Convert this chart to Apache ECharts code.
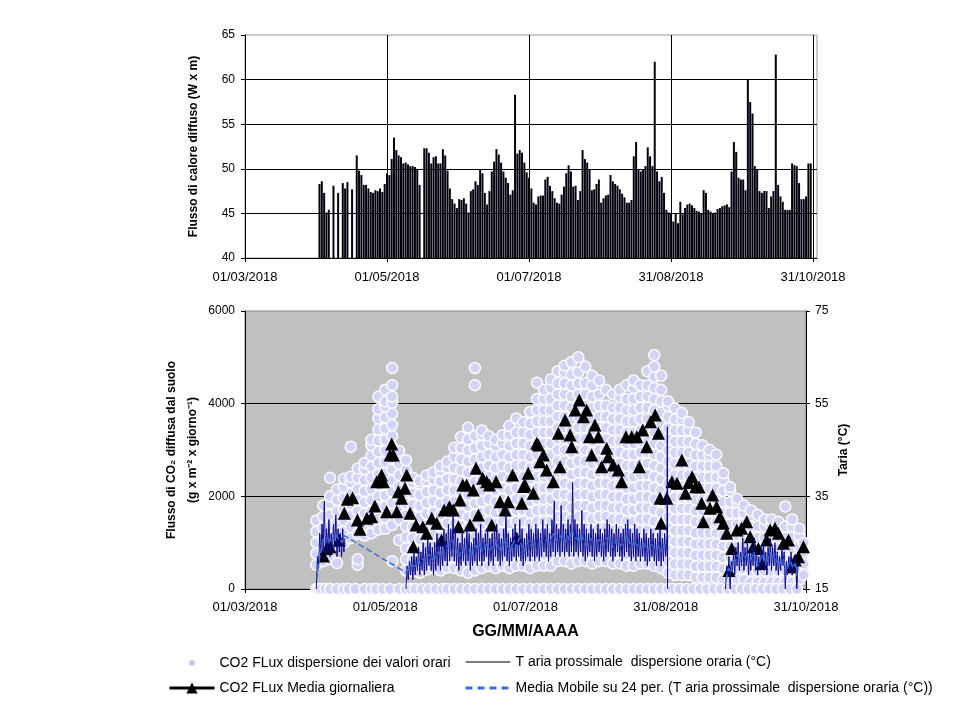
<!DOCTYPE html>
<html><head><meta charset="utf-8">
<script src="https://cdn.jsdelivr.net/npm/echarts@6/dist/echarts.min.js"></script>
<style>html,body{margin:0;padding:0;background:#fff}#c{width:960px;height:720px}</style>
</head><body><div id="c"></div>
<script>
// Days counted from 01/03/2018 (day 0)
const xTickLabels = ['01/03/2018','01/05/2018','01/07/2018','31/08/2018','31/10/2018'];
const X_STEP = 61;

// Top chart: daily heat flux (W x m)
const heatFlux = [[32,48.3],[33,48.6],[34,47.3],[35,45.1],[36,45.4],[38,48.1],[40,47.3],[42,48.4],[43,47.8],[44,48.5],[46,47.7],[48,51.5],[49,49.8],[50,49.3],[51,48.2],[52,48.2],[53,47.8],[54,47.4],[55,47.3],[56,47.6],[57,47.5],[58,47.8],[59,47.4],[60,48.3],[61,49.5],[62,49.3],[63,51.1],[64,53.5],[65,52.1],[66,51.5],[67,51.3],[68,50.6],[69,50.7],[70,50.5],[71,50.3],[72,50.3],[73,50.2],[74,50.0],[75,48.2],[77,52.3],[78,52.3],[79,51.8],[80,50.6],[81,51.3],[82,51.4],[83,50.6],[84,50.6],[85,52.2],[86,51.5],[87,49.8],[88,47.8],[89,46.6],[90,46.1],[91,45.6],[92,46.6],[93,46.5],[94,46.7],[95,46.1],[96,45.1],[97,47.5],[98,47.7],[99,48.6],[100,48.2],[101,49.9],[102,49.5],[103,47.3],[104,46.0],[105,47.5],[106,49.7],[107,50.8],[108,52.2],[109,51.6],[110,50.7],[111,49.7],[112,49.0],[113,48.4],[114,47.1],[115,47.6],[116,58.3],[117,51.7],[118,52.1],[119,51.8],[120,50.7],[121,49.6],[122,49.0],[123,47.8],[124,46.2],[125,46.0],[126,46.9],[127,47.0],[128,47.0],[129,48.8],[130,49.1],[131,48.1],[132,47.5],[133,46.7],[134,46.2],[135,46.1],[136,47.1],[137,48.0],[138,49.5],[139,50.4],[140,49.7],[141,48.0],[142,48.1],[143,46.5],[144,47.5],[145,52.1],[146,51.1],[147,50.7],[148,49.9],[149,47.6],[150,47.7],[151,48.3],[152,48.8],[153,46.2],[154,46.7],[155,47.0],[156,47.1],[157,49.3],[158,48.6],[159,48.3],[160,48.1],[161,47.7],[162,47.2],[163,46.8],[164,46.2],[165,46.2],[166,46.5],[167,51.4],[168,53.0],[169,49.9],[170,49.7],[171,49.9],[172,50.3],[173,52.4],[174,51.4],[175,50.3],[176,62.0],[177,49.7],[178,48.6],[179,49.1],[180,47.3],[181,45.4],[182,45.1],[183,45.0],[184,44.1],[185,45.0],[186,43.9],[187,46.3],[188,44.9],[189,45.6],[190,46.0],[191,46.1],[192,45.9],[193,45.6],[194,45.3],[195,45.2],[196,45.0],[197,47.6],[198,47.3],[199,45.4],[200,45.2],[201,45.0],[202,45.1],[203,45.5],[204,45.6],[205,45.8],[206,45.9],[207,46.0],[208,45.7],[209,49.7],[210,53.0],[211,51.9],[212,49.0],[213,48.8],[214,48.8],[215,47.6],[216,60.0],[217,57.5],[218,56.2],[219,50.3],[220,49.9],[221,47.5],[222,47.3],[223,47.5],[224,47.5],[225,45.6],[226,46.9],[227,47.5],[228,62.8],[229,48.2],[230,46.9],[231,46.3],[232,45.4],[233,45.4],[234,45.4],[235,50.6],[236,50.4],[237,50.3],[238,48.4],[239,46.6],[240,46.6],[241,46.9],[242,50.6],[243,50.6]];

// Bottom chart: hourly CO2 flux values (g x m-2 x giorno-1), read per date column
const hourlyFlux = [
[31,[520,760,1000,1240,1480]],
[34,[600,840,1080,1320,1560,1800]],
[37,[640,880,1120,1360,1600,1840,2000,2400]],
[40,[560,960,1200,1440,1680,1920,2150]],
[43,[1000,1240,1480,1720,1960,2200,2380]],
[46,[1100,1340,1580,1820,2060,2300,2420,3070]],
[49,[520,640,1200,1440,1680,1920,2160,2400,2600]],
[52,[1150,1390,1630,1870,2110,2350,2590,2720]],
[55,[1200,1440,1680,1920,2160,2400,2640,2880,3100,3220]],
[58,[1280,1520,1760,2000,2240,2480,2720,2960,3200,3440,3680,3880,4150]],
[61,[1300,1540,1780,2020,2260,2500,2740,2980,3220,3460,3700,3940,4050,4300]],
[64,[600,1380,1620,1860,2100,2340,2580,2820,3060,3300,3540,3780,4020,4150,4400,4770]],
[67,[1050,1500,1740,1980,2220,2460,2700,2980]],
[70,[400,640,880,1120,1360,1600,1840,2080,2320,2560,2780]],
[73,[380,620,860,1100,1340,1580,1820,2060,2300,2400]],
[76,[350,590,830,1070,1310,1550,1790,2030,2270,2330]],
[79,[420,660,900,1140,1380,1620,1860,2100,2340,2450]],
[82,[450,690,930,1170,1410,1650,1890,2130,2370,2520]],
[85,[400,640,880,1120,1360,1600,1840,2080,2320,2560,2650]],
[88,[460,700,940,1180,1420,1660,1900,2140,2380,2620,2750]],
[91,[450,690,930,1170,1410,1650,1890,2130,2370,2610,2850,3050]],
[94,[400,640,880,1120,1360,1600,1840,2080,2320,2560,2800,3040,3280]],
[97,[350,590,830,1070,1310,1550,1790,2030,2270,2510,2750,2990,3230,3480]],
[100,[400,640,880,1120,1360,1600,1840,2080,2320,2560,2800,3040,3300,4400,4770]],
[103,[450,690,930,1170,1410,1650,1890,2130,2370,2610,2850,3090,3330,3420]],
[106,[500,740,980,1220,1460,1700,1940,2180,2420,2660,2900,3140,3300]],
[109,[450,690,930,1170,1410,1650,1890,2130,2370,2610,2850,3090,3220]],
[112,[500,740,980,1220,1460,1700,1940,2180,2420,2660,2900,3140,3320]],
[115,[450,690,930,1170,1410,1650,1890,2130,2370,2610,2850,3090,3330,3520]],
[118,[500,740,980,1220,1460,1700,1940,2180,2420,2660,2900,3140,3380,3680]],
[121,[500,740,980,1220,1460,1700,1940,2180,2420,2660,2900,3140,3380,3600]],
[124,[450,690,930,1170,1410,1650,1890,2130,2370,2610,2850,3090,3330,3570,3820]],
[127,[500,740,980,1220,1460,1700,1940,2180,2420,2660,2900,3140,3380,3620,3860,4100,4450]],
[130,[500,740,980,1220,1460,1700,1940,2180,2420,2660,2900,3140,3380,3620,3860,4100,4300]],
[133,[500,740,980,1220,1460,1700,1940,2180,2420,2660,2900,3140,3380,3620,3860,4100,4340,4520]],
[136,[600,840,1080,1320,1560,1800,2040,2280,2520,2760,3000,3240,3480,3720,3960,4200,4440,4700]],
[139,[600,840,1080,1320,1560,1800,2040,2280,2520,2760,3000,3240,3480,3720,3960,4200,4440,4680,4820]],
[142,[550,790,1030,1270,1510,1750,1990,2230,2470,2710,2950,3190,3430,3670,3910,4150,4390,4630,4900]],
[145,[600,840,1080,1320,1560,1800,2040,2280,2520,2760,3000,3240,3480,3720,3960,4200,4440,4680,5000]],
[148,[600,840,1080,1320,1560,1800,2040,2280,2520,2760,3000,3240,3480,3720,3960,4200,4440,4800]],
[151,[550,790,1030,1270,1510,1750,1990,2230,2470,2710,2950,3190,3430,3670,3910,4150,4390,4600]],
[154,[600,840,1080,1320,1560,1800,2040,2280,2520,2760,3000,3240,3480,3720,3960,4200,4500]],
[157,[600,840,1080,1320,1560,1800,2040,2280,2520,2760,3000,3240,3480,3720,3960,4300]],
[160,[550,790,1030,1270,1510,1750,1990,2230,2470,2710,2950,3190,3430,3670,3910,4200]],
[163,[550,790,1030,1270,1510,1750,1990,2230,2470,2710,2950,3190,3430,3670,3910,4150,4300]],
[166,[500,740,980,1220,1460,1700,1940,2180,2420,2660,2900,3140,3380,3620,3860,4100,4400]],
[169,[500,740,980,1220,1460,1700,1940,2180,2420,2660,2900,3140,3380,3620,3860,4100,4340,4500]],
[172,[550,790,1030,1270,1510,1750,1990,2230,2470,2710,2950,3190,3430,3670,3910,4150,4400]],
[175,[550,790,1030,1270,1510,1750,1990,2230,2470,2710,2950,3190,3430,3670,3910,4150,4390,4700]],
[178,[500,740,980,1220,1460,1700,1940,2180,2420,2660,2900,3140,3380,3620,3860,4100,4340,4580,4800,5050]],
[181,[450,690,930,1170,1410,1650,1890,2130,2370,2610,2850,3090,3330,3570,3810,4050,4300,4600]],
[184,[350,590,830,1070,1310,1550,1790,2030,2270,2510,2750,2990,3230,3470,3710,3950,4050]],
[187,[300,540,780,1020,1260,1500,1740,1980,2220,2460,2700,2940,3180,3420,3660,3900]],
[190,[300,540,780,1020,1260,1500,1740,1980,2220,2460,2700,2940,3180,3420,3660,3800]],
[193,[300,540,780,1020,1260,1500,1740,1980,2220,2460,2700,2940,3180,3420,3600]],
[196,[250,490,730,970,1210,1450,1690,1930,2170,2410,2650,2890,3130,3380]],
[199,[250,490,730,970,1210,1450,1690,1930,2170,2410,2650,2890,3100]],
[202,[250,490,730,970,1210,1450,1690,1930,2170,2410,2650,2890,3000]],
[205,[250,490,730,970,1210,1450,1690,1930,2170,2410,2650,2900]],
[208,[200,440,680,920,1160,1400,1640,1880,2120,2360,2500]],
[211,[200,440,680,920,1160,1400,1640,1880,2120,2200]],
[214,[200,440,680,920,1160,1400,1640,1880,1950]],
[217,[200,440,680,920,1160,1400,1640,1800]],
[220,[150,390,630,870,1110,1350,1590,1700]],
[223,[150,390,630,870,1110,1350,1600]],
[226,[150,390,630,870,1110,1350,1500]],
[229,[150,390,630,870,1110,1350,1500]],
[232,[150,390,630,870,1110,1350,1450]],
[235,[150,390,630,870,1110,1350,1780]],
[238,[150,390,630,870,1110,1350,1500]],
[241,[200,440,680,920,1160,1300]],
[243,[300,540,780,1000]]
];
// hourly values equal to zero (row on the axis)
const zeroFluxDays = [31,32,33,35,37,40,43,45,48,52,55,57,60,63,67,70,72,74,77,80,83,86,88,91,94,97,100,103,106,109,112,115,118,121,124,127,130,133,136,139,142,145,148,151,154,157,160,163,166,169,172,175,178,181,184,186,189,192,195,198,201,204,207,210,213,216,219,222,225,228,231,234,237,240];

// Daily mean CO2 flux (triangles)
const dailyMeanFlux = [[34.1,712],[35.5,876],[37,913],[41,1057],[43.2,1633],[44.5,1935],[46.8,1971],[48.9,1489],[50,1288],[53,1525],[55.1,1561],[56.5,1791],[57.3,2316],[59.4,2460],[60.2,2316],[61.6,1669],[63.1,2892],[63.8,3130],[64.5,2892],[66,1669],[66.7,2100],[68.1,1957],[69.6,2172],[70.3,2460],[71.8,1633],[73.2,913],[74.4,1381],[77.3,1345],[79,1201],[81.2,1525],[83.4,1417],[85.5,1057],[86.6,1705],[88.9,1777],[90.6,1705],[92.8,1345],[93.5,1921],[94.7,2244],[96.4,2244],[97.9,1381],[99.3,2136],[100.5,2604],[101.5,1597],[103.4,2388],[105.1,2316],[106.3,2244],[107.3,1381],[109.2,2316],[110.9,1885],[113.1,1705],[114.5,1885],[116.4,2460],[118.2,1093],[120.4,1850],[121.1,2210],[121.8,2244],[123.2,2496],[125.4,2064],[126.9,3144],[127.6,3108],[128.3,2748],[129.8,2892],[131.2,2568],[134.1,2316],[136.3,3360],[137,2640],[139.2,3648],[141.4,3324],[142.1,3072],[143.6,3864],[145.4,4080],[147.2,3720],[148.6,3864],[149.8,3288],[150.8,2892],[152.2,3540],[153.7,3288],[155.1,2640],[157.3,3036],[158,2856],[160.2,2676],[162.4,2568],[163.8,2316],[165.7,3288],[168.2,3288],[170.4,3288],[171.5,2640],[173,3432],[174.7,3072],[176.4,3612],[178.4,3756],[179.8,3360],[180.5,1960],[181,1417],[183.5,1960],[185.7,2316],[187.9,2280],[190,2784],[191.6,2064],[193,2300],[194.5,2424],[196,2208],[197.5,2200],[198.6,1849],[199.3,1453],[202.2,1741],[203.4,2028],[205.1,1777],[206.6,1561],[208,1417],[209.5,1201],[210.5,400],[211.7,876],[213.9,1273],[216,1309],[218.2,1453],[219.7,1129],[221.1,913],[223.3,876],[224.7,552],[226.9,1057],[228.4,1273],[230.5,1309],[232,1201],[234.2,985],[236.4,1057],[237.8,480],[239.3,624],[240.7,696],[242.9,913]];

// Air temperature (°C): night low / afternoon high per day, three recorded periods
const tLo1 = [15,20,22,23,22,23,22,23,24,22,23,22,23];
const tHi1 = [22,27,29,34,28,30,27,29,31,28,27,28,26];
const tLo2 = [15,17,18,17,18,19,18,19,18,19, 20,19,18,19,20,19,20,21,20,21, 22,21,20,19,20,21,20,21,19,20, 21,20,21,20,21,22,20,21,20,22, 21,20,21,22,21,20,21,22,21,22, 21,20,21,22,21,22,21,22,21,22, 23,22,21,22,23,22,23,22,23,22, 23,22,23,22,23,22,23,22,21,22, 23,22,21,22,23,22,21,22,23,22, 21,22,23,22,21,22,23,22,21,22, 21,22,21,22,21,20,21,22,21,20, 21,20,21,22];
const tHi2 = [20,21,22,23,22,24,23,25,24,26, 25,24,25,27,26,25,28,27,29,28, 31,28,26,25,27,26,28,27,25,26, 28,27,29,26,27,28,26,27,28,29, 27,26,28,32,27,26,28,29,27,30, 28,26,27,29,28,27,29,28,27,30, 28,29,27,30,34,29,28,33,29,28, 30,29,38,30,29,28,32,29,28,27, 29,28,27,29,28,27,28,30,29,28, 27,29,28,27,28,29,30,28,27,29, 28,27,26,28,27,26,28,27,26,27, 28,26,27,26];
const tSpike = [[183.7,50],[183.8,15]];
const tLo3 = [15,18,15,19,18,20,19,20,19,20, 18,19,20,19,18,19,20,19,18,20, 19,20,19,18,19,20,15,18,19,18, 19,15];
const tHi3 = [20,22,21,23,24,25,23,26,24,25, 23,24,26,23,22,24,25,23,24,26, 24,25,23,22,24,23,21,22,23,21, 22,20];
const tStart = [31,70,209];

// 24-period moving average of air temperature (daily readings)
const ma1 = [17,21,24,26,26,26,25,26,27,26,26,25,26.5];
const ma2 = [18.5,19.5,20,20,20,21,20.5,21.5,21,22, 22.5,21.5,21.5,22.5,23,22,23.5,24,24.5,24.5, 25.5,24.5,23,22,23.5,23.5,24,24,22,23, 24.5,23.5,25,23,24,25,23,24,24,25.5, 24,23,24.5,26,24,23,24.5,25.5,24,26, 24.5,23,24,25.5,24.5,24.5,25,25,24,26, 25.5,25.5,24,26,27,25.5,25.5,26.5,26,25, 26.5,25.5,28,26,26,25,27,25.5,24.5,24.5, 26,25,24,25.5,25.5,24.5,24.5,26,26,25, 24,25.5,25.5,24.5,24.5,25.5,26.5,25,24,25.5, 24.5,24.5,23.5,25,24,23,24.5,24.5,23.5,23.5, 24.5,23,24,25];
const ma3 = [17,19.5,18.5,21,21,22.5,21,23,21.5,22.5, 20.5,21.5,23,21,20,21.5,22.5,21,21,23, 21.5,22.5,21,20,21.5,21.5,18.5,20,21,19.5, 20.5,18];

// ---- build series data ----
const scatterData = [];
hourlyFlux.forEach(c => c[1].forEach(v => scatterData.push([c[0], v])));
zeroFluxDays.forEach(d => scatterData.push([d, 0]));

function lohi(start, lo, hi) {
  const out = [];
  for (let i = 0; i < lo.length; i++) { out.push([start + i, lo[i]]); out.push([start + i + 0.5, hi[i]]); }
  return out;
}
function daily(start, arr) { return arr.map((v, i) => [start + i + 0.25, v]); }
const tData = [].concat(lohi(tStart[0], tLo1, tHi1), [[45, '-']], lohi(tStart[1], tLo2, tHi2), tSpike, [[190, '-']], lohi(tStart[2], tLo3, tHi3));
const maData = [].concat(daily(tStart[0], ma1), daily(tStart[1], ma2), [[190, '-']], daily(tStart[2], ma3));

const FONT = "'Liberation Sans', Arial, Helvetica, sans-serif";
function fmtX(v) {
  const i = Math.round(v / X_STEP);
  return (Math.abs(v - i * X_STEP) < 1e-6 && i < xTickLabels.length) ? xTickLabels[i] : '';
}
function fmtY(v) { return String(v); }
const axisTxt = { color: '#000', fontFamily: FONT, fontSize: 12 };
const nameTxt = { color: '#000', fontFamily: FONT, fontSize: 12, fontWeight: 'bold' };
const blackLine = { lineStyle: { color: '#000', width: 1 } };

const N_SCAT = 'CO2 FLux dispersione dei valori orari';
const N_MEAN = 'CO2 FLux Media giornaliera';
const N_T = 'T aria prossimale  dispersione oraria (°C)';
const N_MA = 'Media Mobile su 24 per. (T aria prossimale  dispersione oraria (°C))';
const hidden = { color: 'rgba(0,0,0,0)', borderWidth: 0, opacity: 0 };

const chart = echarts.init(document.getElementById('c'), null, { renderer: 'canvas' });
chart.setOption({
  animation: false,
  backgroundColor: '#fff',
  textStyle: { fontFamily: FONT },
  grid: [
    { left: 245, top: 35, width: 572, height: 223, show: true, borderColor: '#9a9a9a', borderWidth: 1, backgroundColor: 'transparent' },
    { left: 245, top: 311, width: 561, height: 278, show: true, borderColor: '#8a8a8a', borderWidth: 1, backgroundColor: '#c0c0c0' }
  ],
  xAxis: [
    { type: 'value', gridIndex: 0, min: 0, max: 245.7, interval: X_STEP,
      axisLine: blackLine, axisTick: { show: true, length: 4, lineStyle: { color: '#000' } },
      axisLabel: { ...axisTxt, fontSize: 13, margin: 13, formatter: fmtX, showMaxLabel: false },
      splitLine: { show: true, showMaxLine: false, lineStyle: { color: '#000', width: 1 } } },
    { type: 'value', gridIndex: 1, min: 0, max: 244, interval: X_STEP,
      name: 'GG/MM/AAAA', nameLocation: 'middle', nameGap: 35, nameMoveOverlap: false, nameTextStyle: { ...nameTxt, fontSize: 16 },
      axisLine: blackLine, axisTick: { show: true, length: 4, lineStyle: { color: '#000' } },
      axisLabel: { ...axisTxt, fontSize: 13, margin: 12, formatter: fmtX },
      splitLine: { show: false } }
  ],
  yAxis: [
    { type: 'value', gridIndex: 0, min: 40, max: 65, interval: 5,
      name: 'Flusso di calore diffuso (W x m)', nameLocation: 'middle', nameGap: 45, nameMoveOverlap: false, nameTextStyle: nameTxt,
      axisLine: { show: true, lineStyle: { color: '#000' } }, axisTick: { show: true, length: 4, lineStyle: { color: '#000' } },
      axisLabel: { ...axisTxt, margin: 10, formatter: fmtY },
      splitLine: { show: true, showMaxLine: false, lineStyle: { color: '#000', width: 1 } } },
    { type: 'value', gridIndex: 1, min: 0, max: 6000, interval: 2000,
      name: 'Flusso di CO₂ diffusa dal suolo\n(g x m⁻² x giorno⁻¹)',
      nameLocation: 'middle', nameGap: 42, nameMoveOverlap: false,
      nameTextStyle: { ...nameTxt, lineHeight: 21 },
      axisLine: { show: true, lineStyle: { color: '#000' } }, axisTick: { show: true, length: 4, lineStyle: { color: '#000' } },
      axisLabel: { ...axisTxt, margin: 10, formatter: fmtY },
      splitLine: { show: true, showMaxLine: false, lineStyle: { color: '#000', width: 1 } } },
    { type: 'value', gridIndex: 1, position: 'right', min: 15, max: 75, interval: 20,
      name: 'Taria (°C)', nameLocation: 'middle', nameGap: 32, nameRotate: 90, nameMoveOverlap: false, nameTextStyle: nameTxt,
      axisLine: { show: true, lineStyle: { color: '#000' } }, axisTick: { show: true, length: 4, lineStyle: { color: '#000' } },
      axisLabel: { ...axisTxt, margin: 9, formatter: fmtY },
      splitLine: { show: false } }
  ],
  legend: [
    { orient: 'vertical', left: 168, top: 652, padding: 0, itemWidth: 45, itemHeight: 14, itemGap: 7,
      textStyle: { color: '#000', fontFamily: FONT, fontSize: 14 }, selectedMode: false,
      data: [
        { name: N_SCAT, icon: 'circle', itemStyle: { color: '#c8c8ee', borderColor: '#ffffff', borderWidth: 8 } },
        { name: N_MEAN, lineStyle: { opacity: 1, width: 3, color: '#000' }, itemStyle: { color: '#000' } }
      ] },
    { orient: 'vertical', left: 464, top: 655, padding: 0, itemWidth: 45, itemHeight: 14, itemGap: 12,
      textStyle: { color: '#000', fontFamily: FONT, fontSize: 14 }, selectedMode: false,
      data: [
        { name: N_T, lineStyle: { width: 1, color: '#000' }, itemStyle: hidden },
        { name: N_MA, lineStyle: { width: 3, type: [7, 5] }, itemStyle: hidden }
      ] }
  ],
  series: [
    { type: 'bar', name: 'Flusso di calore', xAxisIndex: 0, yAxisIndex: 0, data: heatFlux, barWidth: 2,
      itemStyle: { color: '#02020e' }, z: 2 },
    { type: 'scatter', name: N_SCAT, xAxisIndex: 1, yAxisIndex: 1, data: scatterData, symbol: 'circle', symbolSize: 11,
      itemStyle: { color: '#d3d3f5', borderColor: '#fbfbff', borderWidth: 1.5, opacity: 1 }, z: 2 },
    { type: 'line', name: N_MEAN, xAxisIndex: 1, yAxisIndex: 1, data: dailyMeanFlux, symbol: 'triangle', symbolSize: 13,
      showAllSymbol: true, lineStyle: { opacity: 0, width: 3, color: '#000' }, itemStyle: { color: '#000' }, z: 3 },
    { type: 'line', name: N_T, xAxisIndex: 1, yAxisIndex: 2, data: tData, symbol: 'none',
      lineStyle: { color: '#0a0a8c', width: 1 }, itemStyle: { color: '#0a0a8c' }, connectNulls: false, z: 4 },
    { type: 'line', name: N_MA, xAxisIndex: 1, yAxisIndex: 2, data: maData, symbol: 'none',
      lineStyle: { color: '#3a6cd8', width: 1.5, type: [6, 3] }, itemStyle: { color: '#3a6cd8' }, connectNulls: false, z: 5 }
  ]
});
</script>
</body></html>
